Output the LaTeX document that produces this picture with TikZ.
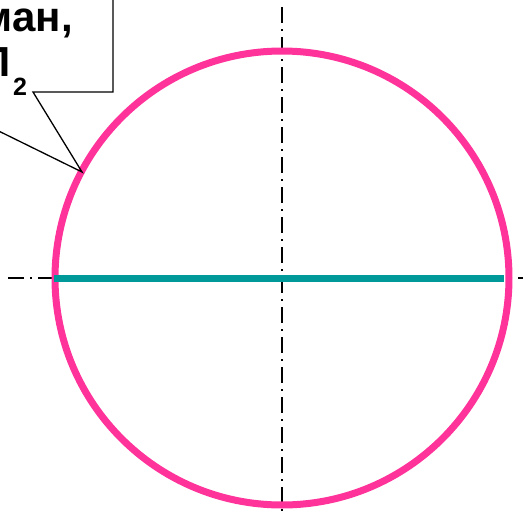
\documentclass[tikz,border=0pt]{standalone}
\usepackage{fontspec}
\setmainfont{Liberation Sans}
\definecolor{rim}{HTML}{FF3399}
\definecolor{chord}{HTML}{009999}
\begin{document}
\begin{tikzpicture}[x=1pt,y=-1pt,
  axis/.style={black,line width=1.6pt,dash pattern=on 16pt off 6pt on 2pt off 6pt},
  leader/.style={black,line width=1.3pt,line join=miter},
  lbl/.style={inner sep=0pt,font=\bfseries\fontsize{42}{50}\selectfont},
  sub/.style={inner sep=0pt,font=\bfseries\fontsize{25}{30}\selectfont}]
\useasboundingbox (0,0) rectangle (523,512);
\clip (0,0) rectangle (523,512);
% axes
\coordinate (vt) at (282,7);
\coordinate (vb) at (282,512);
\coordinate (hl) at (8,278);
\coordinate (hr) at (523,278);
\draw[axis] (vt) -- (vb);
\draw[axis] (hl) -- (hr);
% circle and chord
\coordinate (c) at (282,278);
\draw[rim,line width=7pt] (c) circle[radius=227];
\coordinate (cl) at (54,278);
\coordinate (cr) at (504,278);
\draw[chord,line width=7pt] (cl) -- (cr);
% callout
\coordinate (tip) at (82,172);
\draw[leader] (113,-5) -- (113,92) -- (33,92) -- (tip) -- (-40,112);
\node[lbl,anchor=base east] (l1) at (73,31) {ман,};
\node[lbl,anchor=base east] (l2) at (11,76) {П};
\node[sub,anchor=base west] (l2s) at (13,95) {2};
\end{tikzpicture}
\end{document}
